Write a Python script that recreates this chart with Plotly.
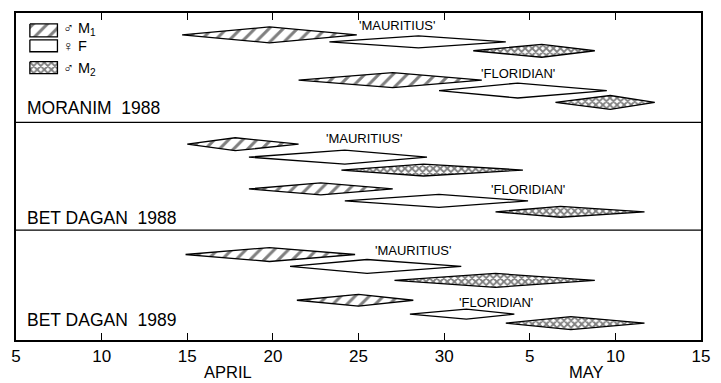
import plotly.graph_objects as go

# ---------------- data (days counted from 1 April; May d = 30 + d) ----------------
PANELS = ["MORANIM\u00a0\u00a01988", "BET DAGAN\u00a0\u00a01988", "BET DAGAN\u00a0\u00a01989"]
STRAINS = ["'MAURITIUS'", "'FLORIDIAN'"]
STAGES = ["M1", "F", "M2"]          # order inside each strain group
# per panel: Mauritius M1, F, M2, Floridian M1, F, M2
START = [
    [14.7, 23.3, 31.7, 21.5, 29.7, 36.5],
    [15.0, 18.6, 24.0, 18.6, 24.2, 33.0],
    [14.9, 21.0, 27.1, 21.4, 28.0, 33.6],
]
PEAK = [
    [19.8, 28.5, 35.7, 27.0, 34.3, 39.7],
    [17.8, 24.2, 28.8, 22.8, 29.7, 36.8],
    [19.8, 25.5, 33.0, 25.0, 31.3, 37.4],
]
END = [
    [24.9, 33.6, 38.8, 32.2, 39.5, 42.3],
    [21.5, 29.0, 34.6, 27.0, 34.9, 41.7],
    [24.8, 31.0, 38.8, 28.2, 34.1, 41.7],
]
PEAK_SIZE = [
    [8.0, 6.0, 6.5, 7.5, 7.5, 7.0],
    [6.5, 7.0, 6.0, 6.0, 6.5, 5.5],
    [7.0, 7.0, 7.0, 6.0, 5.0, 6.5],
]
TICK_VALS = [5, 10, 15, 20, 25, 30, 35, 40, 45]
TICK_TEXT = ["5", "10", "15", "20", "25", "30", "5", "10", "15"]
MONTHS = ["APRIL", "MAY"]
MONTH_POS = [17.4, 38.3]
LEGEND_TEXT = ["\u2642 M<sub>1</sub>", "\u2640 F", "\u2642 M<sub>2</sub>"]

# ---------------- layout helpers (positions, not data) ----------------
W, H = 721, 383
ML, MR, MT, MB = 11, 16, 11, 43
PH = H - MT - MB                      # plot height in px == y units
PANEL_TOP = [0, 110, 218.5]
ROW_Y = [
    [22, 29, 38, 67.5, 78, 90],
    [22, 35, 48, 67, 79, 90],
    [24.5, 36.5, 50.5, 70.5, 84.5, 93.5],
]
STRAIN_LABEL = [  # (x day, y within panel) for Mauritius, Floridian
    [(27.25, 13), (34.3, 61)],
    [(25.3, 16), (34.9, 68)],
    [(28.2, 20.5), (33.0, 72.5)],
]
PANEL_LABEL_Y = [95.5, 96.5, 90.5]

STYLE = {
    "M1": dict(fillpattern=dict(shape="/", fgcolor="black", bgcolor="white",
                                size=10, solidity=0.3), fillcolor="white"),
    "F": dict(fillcolor="white"),
    "M2": dict(fillpattern=dict(shape="x", fgcolor="black", bgcolor="white",
                                size=5, solidity=0.6), fillcolor="white"),
}

fig = go.Figure()

for p in range(3):
    for i in range(6):
        stage = STAGES[i % 3]
        yc = PANEL_TOP[p] + ROW_Y[p][i]
        h = PEAK_SIZE[p][i]
        s, pk, e = START[p][i], PEAK[p][i], END[p][i]
        fig.add_trace(go.Scatter(
            x=[s, pk, e, pk, s], y=[yc, yc - h, yc, yc + h, yc],
            mode="lines", fill="toself", line=dict(color="black", width=1.3),
            showlegend=False, hoverinfo="skip", **STYLE[stage]))
    for g in range(2):
        xx, yy = STRAIN_LABEL[p][g]
        fig.add_annotation(x=xx, y=PANEL_TOP[p] + yy, xref="x", yref="y",
                           text=STRAINS[g], showarrow=False,
                           font=dict(size=13, color="black"))
    fig.add_annotation(x=5.55, y=PANEL_TOP[p] + PANEL_LABEL_Y[p], xref="x", yref="y",
                       text=PANELS[p], showarrow=False, xanchor="left",
                       font=dict(size=17.5, color="black"))

# panel dividers
for yd in PANEL_TOP[1:]:
    fig.add_shape(type="line", xref="paper", x0=0, x1=1, yref="y", y0=yd, y1=yd,
                  line=dict(color="black", width=1.3))

# custom legend in the top panel
LEG_X0, LEG_X1 = 5.81, 7.42
LEG_ROWS = [(11, 24), (27, 39), (49, 61)]
LEG_TEXT_Y = [16.5, 33.5, 56]
for k, stage in enumerate(STAGES):
    y0, y1 = LEG_ROWS[k]
    fig.add_trace(go.Scatter(
        x=[LEG_X0, LEG_X1, LEG_X1, LEG_X0, LEG_X0], y=[y0, y0, y1, y1, y0],
        mode="lines", fill="toself", line=dict(color="black", width=1.3),
        showlegend=False, hoverinfo="skip", **STYLE[stage]))
    fig.add_annotation(x=7.6, y=LEG_TEXT_Y[k], xref="x", yref="y",
                       text=LEGEND_TEXT[k], showarrow=False, xanchor="left",
                       font=dict(size=14.5, color="black"))

for m, xm in zip(MONTHS, MONTH_POS):
    fig.add_annotation(x=xm, y=-(372 - (H - MB)) / PH, xref="x", yref="paper",
                       yanchor="middle", text=m, showarrow=False,
                       font=dict(size=16.5, color="black"))

fig.update_layout(
    width=W, height=H, margin=dict(l=ML, r=MR, t=MT, b=MB),
    paper_bgcolor="white", plot_bgcolor="white",
    font=dict(family="Liberation Sans, Arial, sans-serif", color="black"),
    showlegend=False,
    xaxis=dict(range=[5, 45], tickvals=TICK_VALS, ticktext=TICK_TEXT,
               ticks="inside", ticklen=7, tickwidth=1.3, tickcolor="black",
               showline=True, linecolor="black", linewidth=1.5, mirror="ticks",
               showgrid=False, zeroline=False, tickfont=dict(size=17)),
    yaxis=dict(range=[PH, 0], showticklabels=False, ticks="", showgrid=False,
               zeroline=False, showline=True, linecolor="black", linewidth=1.5,
               mirror=True),
)

fig.write_html("out.html")
